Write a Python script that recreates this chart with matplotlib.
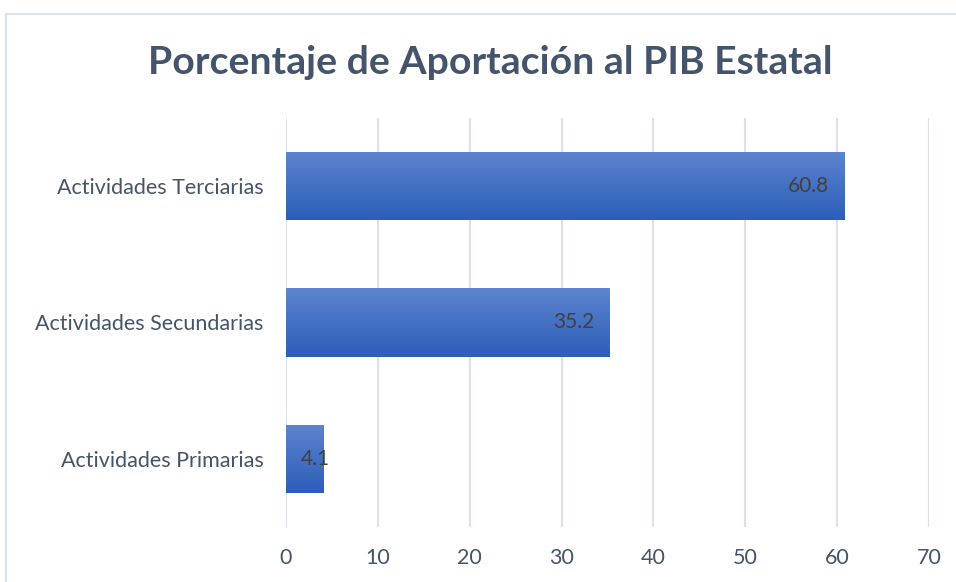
import matplotlib
matplotlib.use('Agg')
import numpy as np
import matplotlib.pyplot as plt
from matplotlib.patches import Rectangle

categories = ['Actividades Primarias', 'Actividades Secundarias', 'Actividades Terciarias']
values = [4.1, 35.2, 60.8]
xticks = [0, 10, 20, 30, 40, 50, 60, 70]
title = 'Porcentaje de Aportación al PIB Estatal'

plt.rcParams['font.family'] = ['Lato', 'DejaVu Sans']
text_col = '#44546A'
grid_col = '#DDE2EA'

fig = plt.figure(figsize=(9.56, 5.82), dpi=100)
# chart border (pixel coords, origin bottom-left), only left and top show
fig.patches.append(Rectangle((6, -500), 1000, 582 - 14 + 500, transform=None, fill=False,
                             edgecolor='#DCE2EA', linewidth=1.5, clip_on=False))
ax = fig.add_axes([286/956, 1-527/582, (929-286)/956, (527-118)/582])

pos = np.arange(len(categories))
bars = ax.barh(pos, values, height=0.5, facecolor='none', edgecolor='none', zorder=3)

# vertical gradient, light on top and dark at bottom
grad = np.linspace(0, 1, 256).reshape(-1, 1)
top = np.array([93, 132, 207]) / 255.
bot = np.array([44, 94, 184]) / 255.
img = top + (bot - top) * grad[:, :, None]
for b, v in zip(bars, values):
    y0 = b.get_y()
    im = ax.imshow(img, extent=[0, v, y0, y0 + b.get_height()], origin='upper',
                   aspect='auto', zorder=3)
    im.set_clip_path(b)

ax.set_xlim(0, 70)
ax.set_ylim(-0.5, len(categories) - 0.5)
ax.set_xticks(xticks)
ax.set_yticks(pos)
ax.set_yticklabels(categories)
ax.grid(axis='x', color=grid_col, linewidth=1.5, zorder=0)
ax.set_axisbelow(True)
for s in ax.spines.values():
    s.set_visible(False)
ax.tick_params(axis='both', length=0, labelsize=15.5, labelcolor=text_col)
ax.tick_params(axis='x', pad=15)
ax.tick_params(axis='y', pad=16)

# data labels, inside end (or from bar start when the bar is too short)
for p, v in zip(pos, values):
    if v < 8:
        ax.annotate('%.1f' % v, (0, p), xytext=(15, 0), textcoords='offset pixels',
                    ha='left', va='center', fontsize=15, color='#404040', zorder=4)
    else:
        ax.annotate('%.1f' % v, (v, p), xytext=(-15, 0), textcoords='offset pixels',
                    ha='right', va='center', fontsize=15, color='#404040', zorder=4)

fig.text(490/956, 1-62/582, title, ha='center', va='center', fontsize=28.3,
         fontweight='bold', color=text_col)

plt.savefig('out.png', format='png')
